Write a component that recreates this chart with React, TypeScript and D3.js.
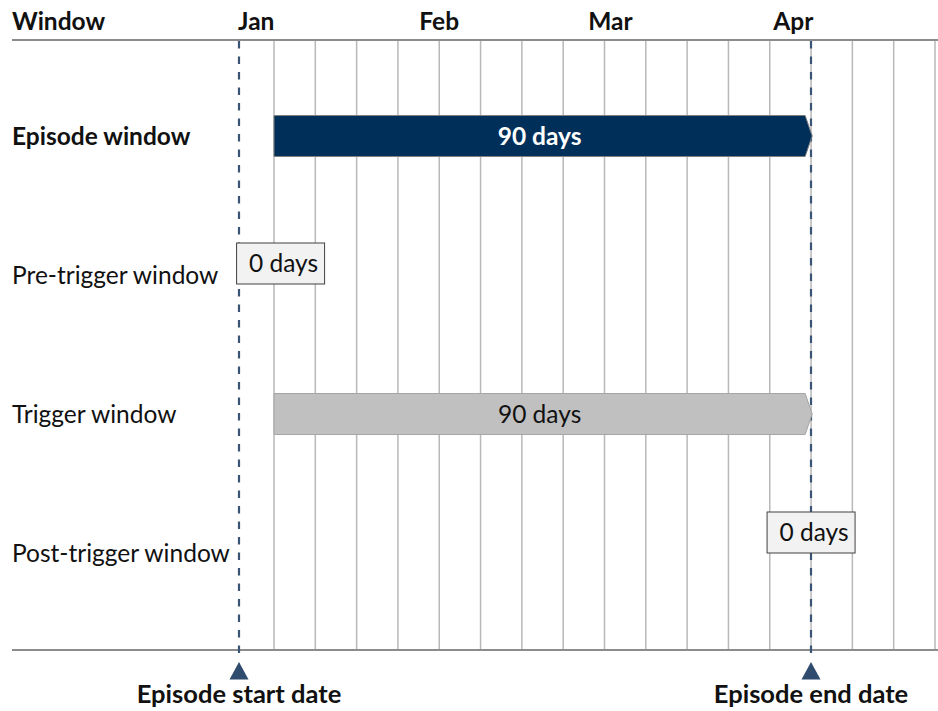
import React, { useEffect, useRef } from 'react';
import * as d3 from 'd3';

// rows of the timeline
const windowNames = ['Episode window', 'Pre-trigger window', 'Trigger window', 'Post-trigger window'];
const windowStartDay = [0, -6, 0, 91];
const windowDays = [90, 0, 90, 0];

// header months and their day positions
const months = ['Jan', 'Feb', 'Mar', 'Apr'];
const monthDay = [-3, 28, 57, 88];

// date markers under the chart
const markerNames = ['Episode start date', 'Episode end date'];
const markerDay = [-6, 91];

// weekly grid
const gridDays = d3.range(0, 113, 7);

const width = 938;
const height = 711;
const FONT = 'Lato, "Open Sans", sans-serif';
const FS = 24.5;

const App: React.FC = () => {
  const svgRef = useRef<SVGSVGElement>(null);

  useEffect(() => {
    if (!svgRef.current) return;
    const svg = d3.select(svgRef.current);
    svg.selectAll('*').remove();

    const top = 40;
    const bottom = 650;
    const barH = 41;

    const x = d3.scaleLinear().domain([0, 112]).range([274, 935]);
    const y = d3.scalePoint<string>().domain(windowNames).range([136, 553]);

    const g = svg.append('g').style('font-family', FONT).style('font-size', FS + 'px');

    // grid
    g.append('g')
      .selectAll('line')
      .data(gridDays)
      .enter().append('line')
      .attr('x1', d => x(d)).attr('x2', d => x(d))
      .attr('y1', top).attr('y2', bottom)
      .attr('stroke', '#B8B8B8')
      .attr('stroke-width', 1.5);

    // top and bottom rules
    [top, bottom].forEach(v => {
      g.append('line')
        .attr('x1', 12).attr('x2', width)
        .attr('y1', v).attr('y2', v)
        .attr('stroke', '#8C8C8C')
        .attr('stroke-width', 2);
    });

    // header
    g.append('text')
      .attr('x', 12).attr('y', 30)
      .attr('font-weight', 'bold')
      .attr('fill', '#111')
      .text('Window');

    g.selectAll('.month')
      .data(months)
      .enter().append('text')
      .attr('class', 'month')
      .attr('x', (d, i) => x(monthDay[i]))
      .attr('y', 30)
      .attr('text-anchor', 'middle')
      .attr('font-weight', 'bold')
      .attr('fill', '#111')
      .text(d => d);

    // dashed date lines
    g.selectAll('.marker-line')
      .data(markerDay)
      .enter().append('line')
      .attr('class', 'marker-line')
      .attr('x1', d => Math.round(x(d))).attr('x2', d => Math.round(x(d)))
      .attr('y1', top + 1).attr('y2', bottom + 7)
      .attr('stroke', '#3A5475')
      .attr('stroke-width', 2.2)
      .attr('stroke-dasharray', '7.5 8');

    // row labels
    g.selectAll('.row-label')
      .data(windowNames)
      .enter().append('text')
      .attr('class', 'row-label')
      .attr('x', 12)
      .attr('y', d => (y(d) as number) + 8.5)
      .attr('font-weight', (d, i) => (i === 0 ? 'bold' : 'normal'))
      .attr('fill', '#111')
      .text(d => d);

    // bars and zero-length boxes
    windowNames.forEach((name, i) => {
      const cy = y(name) as number;
      const days = windowDays[i];
      const label = `${days} days`;
      if (days > 0) {
        const x0 = x(windowStartDay[i]);
        const x1 = x(windowStartDay[i] + days);
        const dark = i === 0;
        const path = d3.path();
        path.moveTo(x0, cy - barH / 2);
        path.lineTo(x1, cy - barH / 2);
        path.lineTo(x1 + 7, cy);
        path.lineTo(x1, cy + barH / 2);
        path.lineTo(x0, cy + barH / 2);
        path.closePath();
        g.append('path')
          .attr('d', path.toString())
          .attr('fill', dark ? '#00305A' : '#C0C0C0')
          .attr('stroke', dark ? '#7F7F7F' : '#A6A6A6')
          .attr('stroke-width', 1);
        g.append('text')
          .attr('x', (x0 + x1) / 2)
          .attr('y', cy + 8.5)
          .attr('text-anchor', 'middle')
          .attr('font-weight', dark ? 'bold' : 'normal')
          .attr('fill', dark ? '#FFFFFF' : '#111')
          .text(label);
      } else {
        const bw = 88;
        const anchor = x(windowStartDay[i]);
        const bx = i === 3 ? anchor - bw / 2 : anchor - 2;
        const by = cy - (i === 3 ? 20.5 : 11.5) - barH / 2;
        g.append('rect')
          .attr('x', bx).attr('y', by)
          .attr('width', bw).attr('height', barH)
          .attr('fill', '#F2F2F2')
          .attr('stroke', '#404040')
          .attr('stroke-width', 1);
        g.append('text')
          .attr('x', bx + bw / 2 + 3)
          .attr('y', by + barH / 2 + 8.5)
          .attr('text-anchor', 'middle')
          .attr('fill', '#111')
          .text(label);
      }
    });

    // triangles and date labels
    markerDay.forEach((d, i) => {
      const cx = Math.round(x(d));
      g.append('path')
        .attr('d', `M${cx},662L${cx + 9.5},679.5L${cx - 9.5},679.5Z`)
        .attr('fill', '#2F4B6E');
      g.append('text')
        .attr('x', cx)
        .attr('y', 703)
        .attr('text-anchor', 'middle')
        .attr('font-weight', 'bold')
        .attr('fill', '#111')
        .style('font-size', '25.5px')
        .text(markerNames[i]);
    });
  }, []);

  return (
    <svg
      ref={svgRef}
      width={width}
      height={height}
      style={{ position: 'absolute', left: 0, top: 0, background: '#fff' }}
    />
  );
};

export default App;
